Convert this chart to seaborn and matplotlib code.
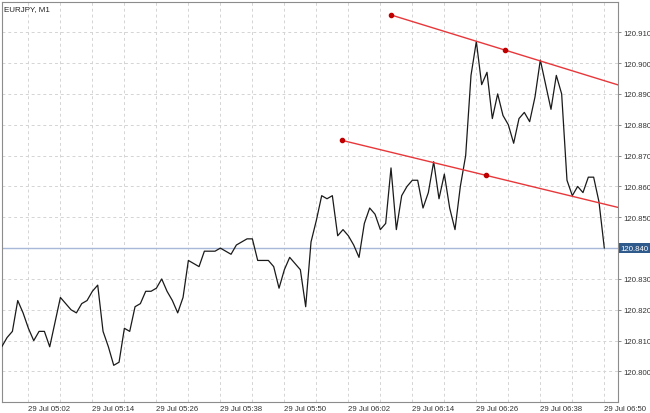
import matplotlib
matplotlib.use("Agg")
import matplotlib.pyplot as plt
import matplotlib.dates as mdates
import pandas as pd
import seaborn as sns

# EURJPY M1 closes, one per minute starting 29 Jul 04:57
start = "2014-07-29 04:57"
close = [
    120.808, 120.811, 120.813, 120.823, 120.819, 120.814, 120.810, 120.813, 120.813, 120.808,
    120.816, 120.824, 120.822, 120.820, 120.819, 120.822, 120.823, 120.826, 120.828, 120.813,
    120.808, 120.802, 120.803, 120.814, 120.813, 120.821, 120.822, 120.826, 120.826, 120.827,
    120.830, 120.826, 120.823, 120.819, 120.824, 120.836, 120.835, 120.834, 120.839, 120.839,
    120.839, 120.840, 120.839, 120.838, 120.841, 120.842, 120.843, 120.843, 120.836, 120.836,
    120.836, 120.834, 120.827, 120.833, 120.837, 120.835, 120.833, 120.821, 120.842, 120.849,
    120.857, 120.856, 120.857, 120.844, 120.846, 120.844, 120.841, 120.837, 120.848, 120.853,
    120.851, 120.846, 120.848, 120.866, 120.846, 120.857, 120.860, 120.862, 120.862, 120.853,
    120.858, 120.868, 120.856, 120.864, 120.853, 120.846, 120.860, 120.870, 120.896, 120.907,
    120.893, 120.897, 120.882, 120.890, 120.883, 120.880, 120.874, 120.882, 120.884, 120.881,
    120.889, 120.901, 120.893, 120.885, 120.896, 120.890, 120.862, 120.857, 120.860, 120.858,
    120.863, 120.863, 120.855, 120.840,
]
bid = 120.840

# trend line anchors (time, price)
upper_time = ["2014-07-29 06:10:00", "2014-07-29 06:31:24"]
upper_price = [120.9156, 120.9042]
lower_time = ["2014-07-29 06:00:54", "2014-07-29 06:27:48"]
lower_price = [120.8749, 120.8636]

price_ticks = [120.800, 120.810, 120.820, 120.830, 120.840, 120.850,
               120.860, 120.870, 120.880, 120.890, 120.900, 120.910]

df = pd.DataFrame({"time": pd.date_range(start, periods=len(close), freq="min"),
                   "close": close})

sns.set_style("white")
plt.rcParams["font.family"] = ["Liberation Sans", "DejaVu Sans"]

fig = plt.figure(figsize=(6.5, 4.14), dpi=100)
ax = fig.add_axes([2 / 650, 11 / 414, 616 / 650, 400 / 414])

xl = mdates.date2num(pd.Timestamp("2014-07-29 04:57:03"))
xr = mdates.date2num(pd.Timestamp("2014-07-29 06:52:34"))
ax.set_xlim(xl, xr)
ax.set_ylim(120.7901, 120.9198)

# grid
ax.xaxis.set_major_locator(mdates.MinuteLocator(byminute=[2, 14, 26, 38, 50]))
ax.xaxis.set_minor_locator(mdates.MinuteLocator(byminute=[8, 20, 32, 44, 56]))
ax.xaxis.set_major_formatter(mdates.DateFormatter("%d %b %H:%M"))
ax.set_yticks(price_ticks)
ax.set_yticklabels(["" if abs(p - bid) < 1e-9 else f"{p:.3f}" for p in price_ticks])
ax.grid(True, which="both", axis="x", color="#d4d4d4", lw=0.7, ls=(0, (3, 3)))
ax.grid(True, axis="y", color="#d4d4d4", lw=0.7, ls=(0, (3, 3)))

ax.axhline(bid, color="#a8b8d8", lw=1, zorder=2)

sns.lineplot(data=df, x="time", y="close", color="#1a1a1a", lw=0.9, ax=ax, zorder=3)

for t, p in [(upper_time, upper_price), (lower_time, lower_price)]:
    t0, t1 = mdates.date2num(pd.Timestamp(t[0])), mdates.date2num(pd.Timestamp(t[1]))
    slope = (p[1] - p[0]) / (t1 - t0)
    ax.plot([t0, xr], [p[0], p[0] + slope * (xr - t0)], color="#e8373a", lw=1, zorder=4)
    ax.plot([t0, t1], p, ls="none", marker="o", ms=3, color="#c00000", zorder=5)

ax.yaxis.tick_right()
ax.tick_params(axis="y", which="major", length=2.5, width=0.6, color="#777777",
               labelsize=5.6, labelcolor="#333333", pad=1)
ax.tick_params(axis="x", which="major", length=2, width=0.6, color="#777777",
               labelsize=5.6, labelcolor="#333333", pad=0.5)
ax.tick_params(axis="x", which="minor", length=0)
for lab in ax.get_xticklabels():
    lab.set_ha("left")
ax.set_xlabel("")
ax.set_ylabel("")

for s in ax.spines.values():
    s.set_color("#8c8c8c")
    s.set_linewidth(0.8)

ax.text(0.003, 0.993, "EURJPY, M1", transform=ax.transAxes, fontsize=5.8,
        color="#222222", ha="left", va="top")

ax.annotate(f"{bid:.3f}", xy=(1, bid), xycoords=("axes fraction", "data"),
            xytext=(1.5, 0), textcoords="offset points", fontsize=5.6, color="white",
            ha="left", va="center",
            bbox=dict(boxstyle="square,pad=0.2", fc="#2f5a8c", ec="none"))

fig.savefig("out.png", dpi=100)
